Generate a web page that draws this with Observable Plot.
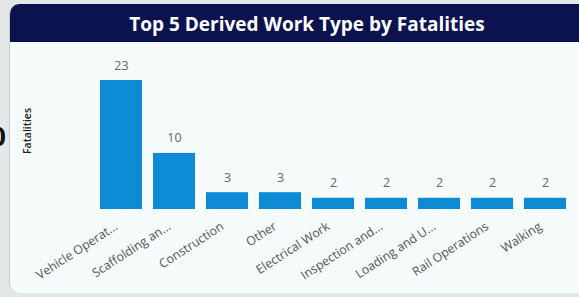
<!DOCTYPE html>
<html>
<head>
<meta charset="utf-8">
<script src="https://cdn.jsdelivr.net/npm/d3@7"></script>
<script src="https://cdn.jsdelivr.net/npm/@observablehq/plot@0.6"></script>
<style>
  html, body { margin: 0; padding: 0; width: 579px; height: 297px; overflow: hidden; background: #e4e7e7; font-family: "Open Sans", "Noto Sans", sans-serif; }
  #zero { position: absolute; left: -9px; top: 118px; font-size: 26px; font-weight: 700; color: #111; }
  #card { position: absolute; left: 9px; top: 4px; width: 600px; height: 289px; background: #f6fbfc; border-radius: 10px; overflow: hidden; border-left: 1px solid #c9cccc; }
  #header { position: absolute; left: 0; top: 0; width: 100%; height: 38px; background: #0b124e; }
  #title { position: absolute; left: 0; top: 7px; width: 594px; text-align: center; color: #fff; font-weight: 700; font-size: 19px; }
  #chart { position: absolute; left: 0; top: 42px; }
</style>
</head>
<body>
<div id="zero">0</div>
<div id="card">
  <div id="header"></div>
  <div id="title">Top 5 Derived Work Type by Fatalities</div>
</div>
<div id="chart"></div>
<script>
const categories = ["Vehicle Operat...", "Scaffolding an...", "Construction", "Other", "Electrical Work", "Inspection and...", "Loading and U...", "Rail Operations", "Walking"];
const fatalities = [23, 10, 3, 3, 2, 2, 2, 2, 2];
const yTitle = "Fatalities";

const data = categories.map((c, i) => ({category: c, value: fatalities[i]}));

const chart = Plot.plot({
  width: 579,
  height: 251,
  marginLeft: 87,
  marginRight: 0,
  marginTop: 38,
  marginBottom: 84,
  style: {background: "transparent", fontFamily: "'Open Sans', 'Noto Sans', sans-serif"},
  x: {domain: categories, padding: 0.21, label: null, axis: null},
  y: {domain: [0, 23], axis: null},
  marks: [
    Plot.barY(data, {x: "category", y: "value", fill: "#0d8bd4"}),
    Plot.text(data, {x: "category", y: "value", text: d => String(d.value), dy: -15, fill: "#666", fontSize: 12.5}),
    Plot.text(data, {x: "category", frameAnchor: "bottom", text: "category", textAnchor: "end", rotate: -33, dx: -3, dy: 19, fontSize: 12.3, fill: "#555"}),
    Plot.text([yTitle], {frameAnchor: "left", text: d => d, rotate: -90, dx: -60, dy: 9, fontSize: 10.5, fontWeight: 600, fill: "#222"})
  ]
});
document.getElementById("chart").appendChild(chart);
</script>
</body>
</html>
